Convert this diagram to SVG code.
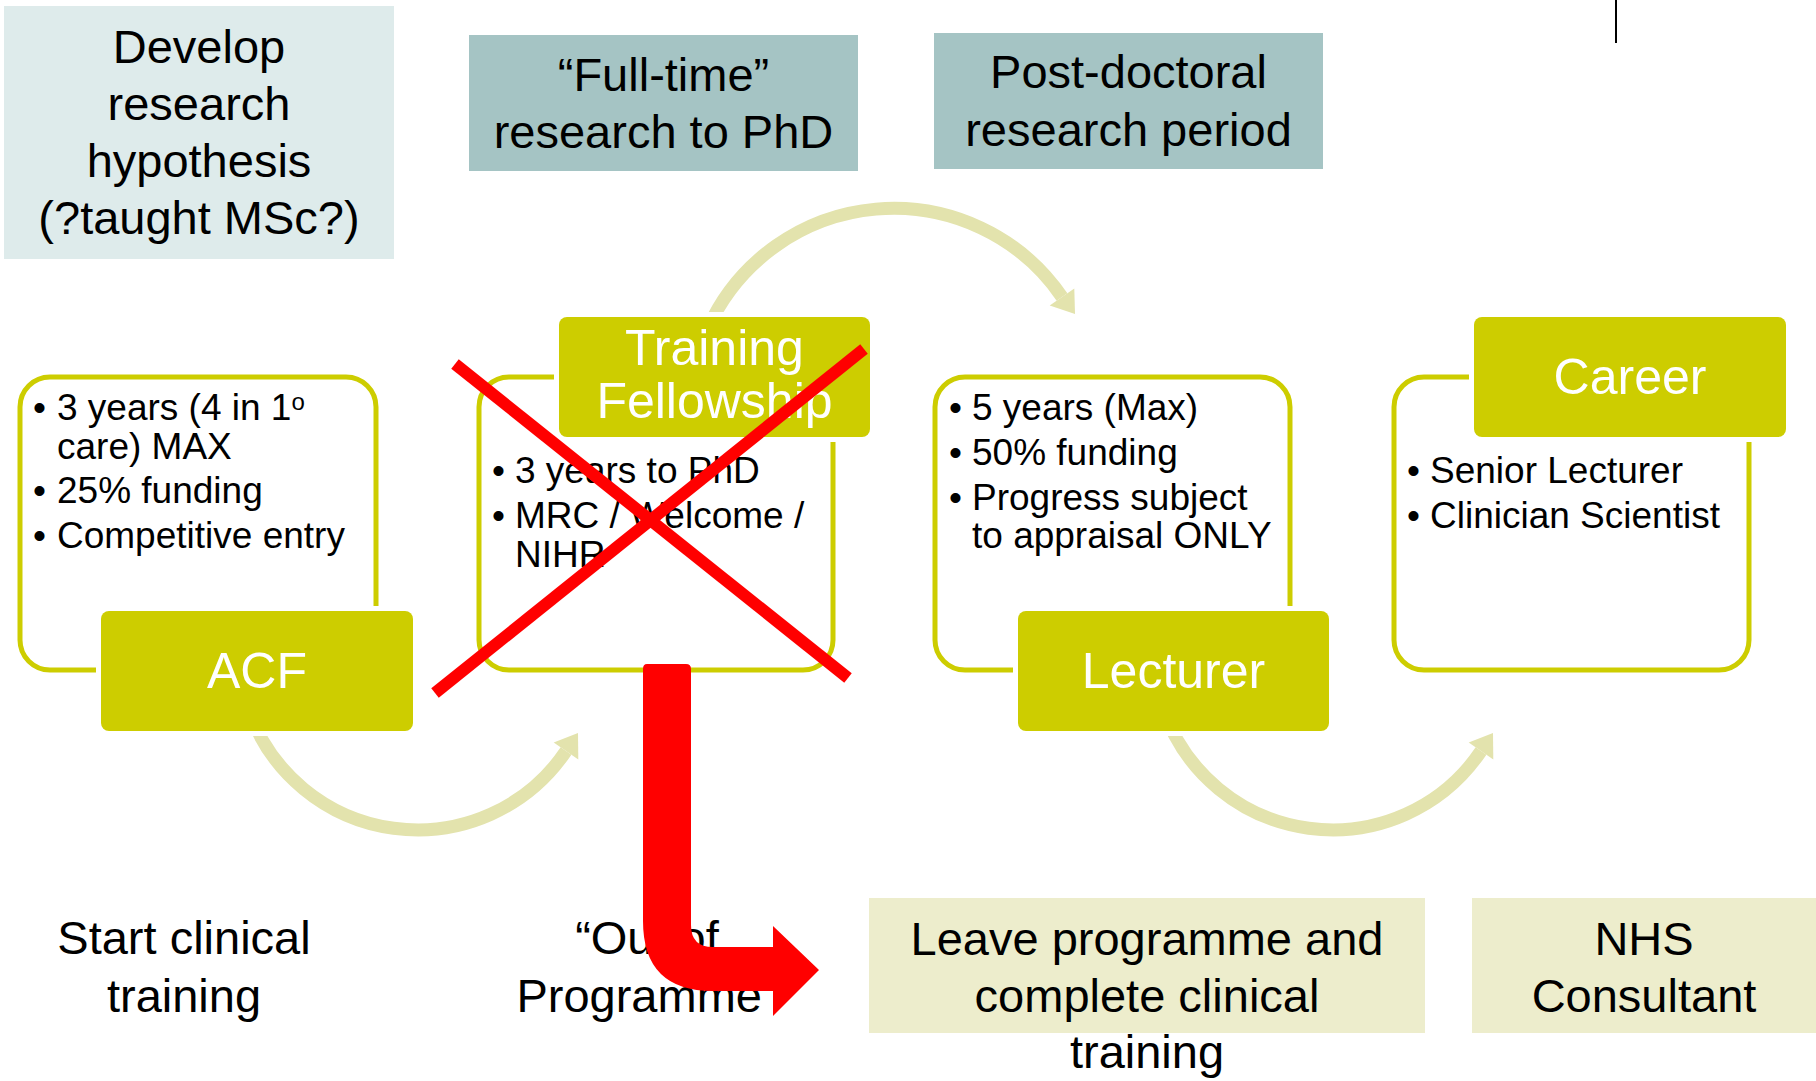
<svg xmlns="http://www.w3.org/2000/svg" width="1816" height="1081" viewBox="0 0 1816 1081">
<style>
text{font-family:"Liberation Sans",Arial,Helvetica,sans-serif}
.big{font-size:47px;fill:#000;text-anchor:middle}
.lbl{font-size:50px;fill:#fff;text-anchor:middle}
.bul{font-size:37px;fill:#000}
.outline{fill:none;stroke:#cdcd00;stroke-width:5}
.tab{fill:#cdcd00;stroke:#fff;stroke-width:10;paint-order:stroke}
.arc{fill:none;stroke:#e3e3ad;stroke-width:13}
.head{fill:#e3e3ad}
.xline{stroke:#ff0000;stroke-width:12;stroke-linecap:butt}
</style>
<rect width="1816" height="1081" fill="#fff"/>

<g id="connectors">
  <path class="arc" d="M 248 708 A 179 179 0 0 0 566 751"/>
  <polygon class="head" points="578,733 553.7,742.4 578.3,759.6"/>
  <path class="arc" d="M 708 328 A 204 204 0 0 1 1062 297"/>
  <polygon class="head" points="1075,314 1049.7,305.5 1074.3,288.5"/>
  <path class="arc" d="M 1163 708 A 179 179 0 0 0 1481 751"/>
  <polygon class="head" points="1493,733 1468.7,742.4 1493.3,759.6"/>
</g>

<g id="phase-hypothesis">
  <rect x="4" y="6" width="390" height="253" fill="#deebeb"/>
  <text class="big" x="199" y="63">Develop</text>
  <text class="big" x="199" y="120">research</text>
  <text class="big" x="199" y="177">hypothesis</text>
  <text class="big" x="199" y="234">(?taught MSc?)</text>
</g>

<g id="phase-phd">
  <rect x="469" y="35" width="389" height="136" fill="#a5c4c4"/>
  <text class="big" x="663.5" y="91">“Full-time”</text>
  <text class="big" x="663.5" y="148">research to PhD</text>
</g>

<g id="phase-postdoc">
  <rect x="934" y="33" width="389" height="136" fill="#a5c4c4"/>
  <text class="big" x="1128.5" y="88">Post-doctoral</text>
  <text class="big" x="1128.5" y="146">research period</text>
</g>

<g id="node-acf">
  <rect class="outline" x="20" y="377" width="356" height="293" rx="30"/>
  <text class="bul" x="33" y="420">•</text>
  <text class="bul" x="57" y="420">3 years (4 in 1<tspan font-size="24" dy="-10">o</tspan></text>
  <text class="bul" x="57" y="459">care) MAX</text>
  <text class="bul" x="33" y="503">•</text>
  <text class="bul" x="57" y="503">25% funding</text>
  <text class="bul" x="33" y="548">•</text>
  <text class="bul" x="57" y="548">Competitive entry</text>
  <rect class="tab" x="101" y="611" width="312" height="120" rx="8"/>
  <text class="lbl" x="257" y="688">ACF</text>
</g>

<g id="node-training-fellowship">
  <rect class="outline" x="479" y="377" width="354" height="293" rx="30"/>
  <rect class="tab" x="559" y="317" width="311" height="120" rx="8"/>
  <text class="lbl" x="714.5" y="365">Training</text>
  <text class="lbl" x="714.5" y="418">Fellowship</text>
  <text class="bul" x="492" y="483">•</text>
  <text class="bul" x="515" y="483">3 years to PhD</text>
  <text class="bul" x="492" y="528">•</text>
  <text class="bul" x="515" y="528">MRC / Welcome /</text>
  <text class="bul" x="515" y="567">NIHR</text>
</g>

<g id="node-lecturer">
  <rect class="outline" x="935" y="377" width="355" height="293" rx="30"/>
  <text class="bul" x="949" y="420">•</text>
  <text class="bul" x="972" y="420">5 years (Max)</text>
  <text class="bul" x="949" y="465">•</text>
  <text class="bul" x="972" y="465">50% funding</text>
  <text class="bul" x="949" y="510">•</text>
  <text class="bul" x="972" y="510">Progress subject</text>
  <text class="bul" x="972" y="548">to appraisal ONLY</text>
  <rect class="tab" x="1018" y="611" width="311" height="120" rx="8"/>
  <text class="lbl" x="1173.5" y="688">Lecturer</text>
</g>

<g id="node-career">
  <rect class="outline" x="1394" y="377" width="355" height="293" rx="30"/>
  <rect class="tab" x="1474" y="317" width="312" height="120" rx="8"/>
  <text class="lbl" x="1630" y="394">Career</text>
  <text class="bul" x="1407" y="483">•</text>
  <text class="bul" x="1430" y="483">Senior Lecturer</text>
  <text class="bul" x="1407" y="528">•</text>
  <text class="bul" x="1430" y="528">Clinician Scientist</text>
</g>

<g id="stage-start">
  <text class="big" x="184" y="954">Start clinical</text>
  <text class="big" x="184" y="1012">training</text>
</g>

<g id="stage-oop">
  <text class="big" x="647" y="954">“Out of</text>
  <text class="big" x="647" y="1012">Programme”</text>
</g>

<g id="stage-leave">
  <rect x="869" y="898" width="556" height="135" fill="#ededcc"/>
  <text class="big" x="1147" y="955">Leave programme and</text>
  <text class="big" x="1147" y="1012">complete clinical</text>
  <text class="big" x="1147" y="1068">training</text>
</g>

<g id="stage-consultant">
  <rect x="1472" y="898" width="344" height="135" fill="#ededcc"/>
  <text class="big" x="1644" y="955">NHS</text>
  <text class="big" x="1644" y="1012">Consultant</text>
</g>

<g id="cross-out">
  <line class="xline" x1="455" y1="364" x2="848" y2="678"/>
  <line class="xline" x1="864" y1="349" x2="435" y2="693"/>
</g>

<g id="exit-arrow">
  <path fill="#ff0000" d="M 647 664 L 686 664 Q 691 664 691 669 L 691 925 Q 691 947 713 947 L 773 947 L 773 926 L 819 970 L 773 1016 L 773 991 L 713 991 Q 643 991 643 921 L 643 669 Q 643 664 647 664 Z"/>
</g>

<line x1="1616" y1="0" x2="1616" y2="43" stroke="#000" stroke-width="2"/>
</svg>
